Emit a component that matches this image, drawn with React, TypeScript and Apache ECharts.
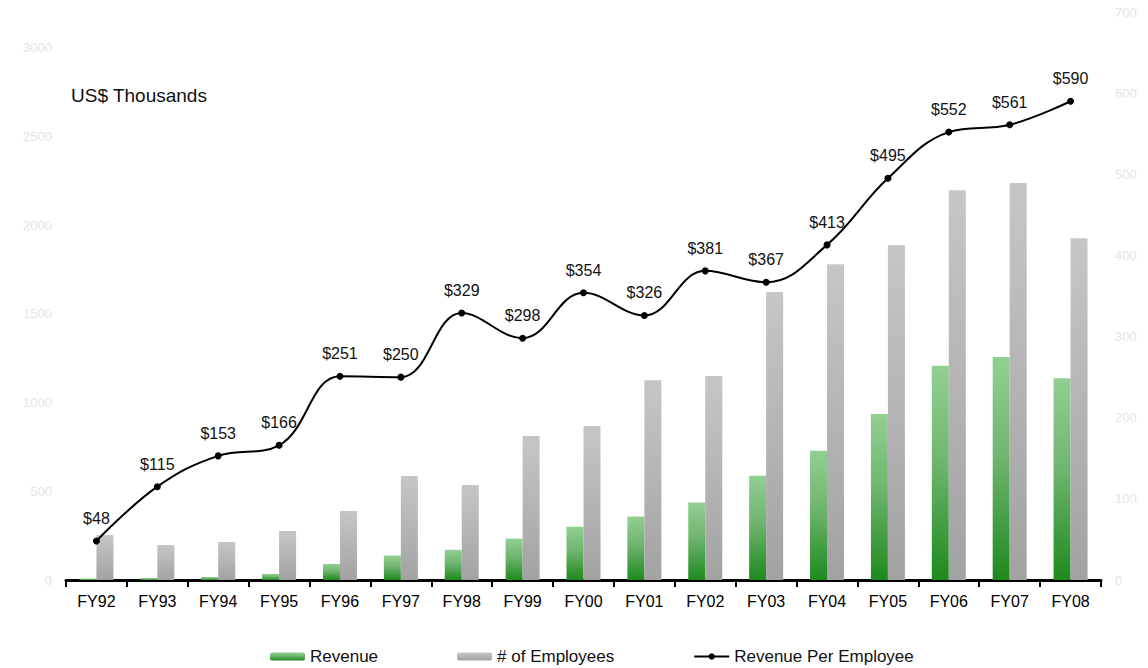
import React, { useEffect, useRef } from "react";
import * as echarts from "echarts";

const categories = ["FY92","FY93","FY94","FY95","FY96","FY97","FY98","FY99","FY00","FY01","FY02","FY03","FY04","FY05","FY06","FY07","FY08"];
const revenue = [8, 11, 17, 34, 90, 138, 170, 233, 300, 358, 436, 588, 728, 935, 1207, 1256, 1137];
const employees = [253, 197, 214, 276, 389, 586, 535, 811, 867, 1126, 1149, 1622, 1779, 1886, 2196, 2236, 1926];
const revenuePerEmployee = [48, 115, 153, 166, 251, 250, 329, 298, 354, 326, 381, 367, 413, 495, 552, 561, 590];

const FONT = "'Liberation Sans', Arial, Helvetica, sans-serif";

export default function App() {
  const ref = useRef<HTMLDivElement>(null);
  useEffect(() => {
    if (!ref.current) return;
    const chart = echarts.init(ref.current, undefined, { renderer: "svg" });
    const green = new echarts.graphic.LinearGradient(0, 0, 0, 1, [
      { offset: 0, color: "#92cf92" },
      { offset: 0.45, color: "#6fb56f" },
      { offset: 1, color: "#1d8a1d" },
    ]);
    const gray = new echarts.graphic.LinearGradient(0, 0, 0, 1, [
      { offset: 0, color: "#c6c6c6" },
      { offset: 1, color: "#a2a2a2" },
    ]);
    chart.setOption({
      animation: false,
      textStyle: { fontFamily: FONT },
      grid: { left: 66, right: 47, top: 12, bottom: 88, containLabel: false },
      graphic: [
        {
          type: "text",
          left: 71,
          top: 86,
          style: { text: "US$ Thousands", font: `19px ${FONT}`, fill: "#111" },
        },
      ],
      legend: {
        left: 265,
        top: 643,
        itemGap: 79,
        itemWidth: 35,
        itemHeight: 8,
        textStyle: { fontSize: 17, color: "#111", fontFamily: FONT },
        data: [
          { name: "Revenue", itemStyle: { color: green } },
          { name: "# of Employees", itemStyle: { color: gray } },
          { name: "Revenue Per Employee" },
        ],
      },
      xAxis: {
        type: "category",
        data: categories,
        axisLine: { lineStyle: { color: "#000", width: 3 } },
        axisTick: { show: true, length: 7, lineStyle: { color: "#000", width: 2 } },
        axisLabel: { color: "#000", fontSize: 16, margin: 13, fontFamily: FONT },
      },
      yAxis: [
        {
          type: "value",
          min: 0,
          max: 3200,
          interval: 500,
          splitLine: { show: false },
          axisLine: { show: false },
          axisTick: { show: false },
          axisLabel: {
            color: "#e4e4e4",
            fontSize: 13,
            margin: 14,
            formatter: (v: number) => (v % 500 === 0 ? String(v) : ""),
          },
        },
        {
          type: "value",
          min: 0,
          max: 700,
          interval: 100,
          splitLine: { show: false },
          axisLine: { show: false },
          axisTick: { show: false },
          axisLabel: { color: "#e4e4e4", fontSize: 13, margin: 14 },
        },
      ],
      series: [
        {
          name: "Revenue",
          type: "bar",
          yAxisIndex: 0,
          data: revenue,
          barWidth: 17,
          barGap: "0%",
          itemStyle: { color: green },
        },
        {
          name: "# of Employees",
          type: "bar",
          yAxisIndex: 0,
          data: employees,
          barWidth: 17,
          barGap: "0%",
          itemStyle: { color: gray },
        },
        {
          name: "Revenue Per Employee",
          type: "line",
          yAxisIndex: 1,
          data: revenuePerEmployee,
          smooth: 0.4,
          symbol: "circle",
          symbolSize: 7,
          itemStyle: { color: "#000" },
          lineStyle: { color: "#000", width: 2 },
          label: {
            show: true,
            position: "top",
            distance: 11,
            color: "#111",
            fontSize: 16,
            fontFamily: FONT,
            formatter: (p: any) => "$" + p.value,
          },
          z: 5,
        },
      ],
    });
    return () => chart.dispose();
  }, []);
  return (
    <div
      ref={ref}
      style={{ position: "fixed", left: 0, top: 0, width: 1148, height: 668, background: "#fff" }}
    />
  );
}
